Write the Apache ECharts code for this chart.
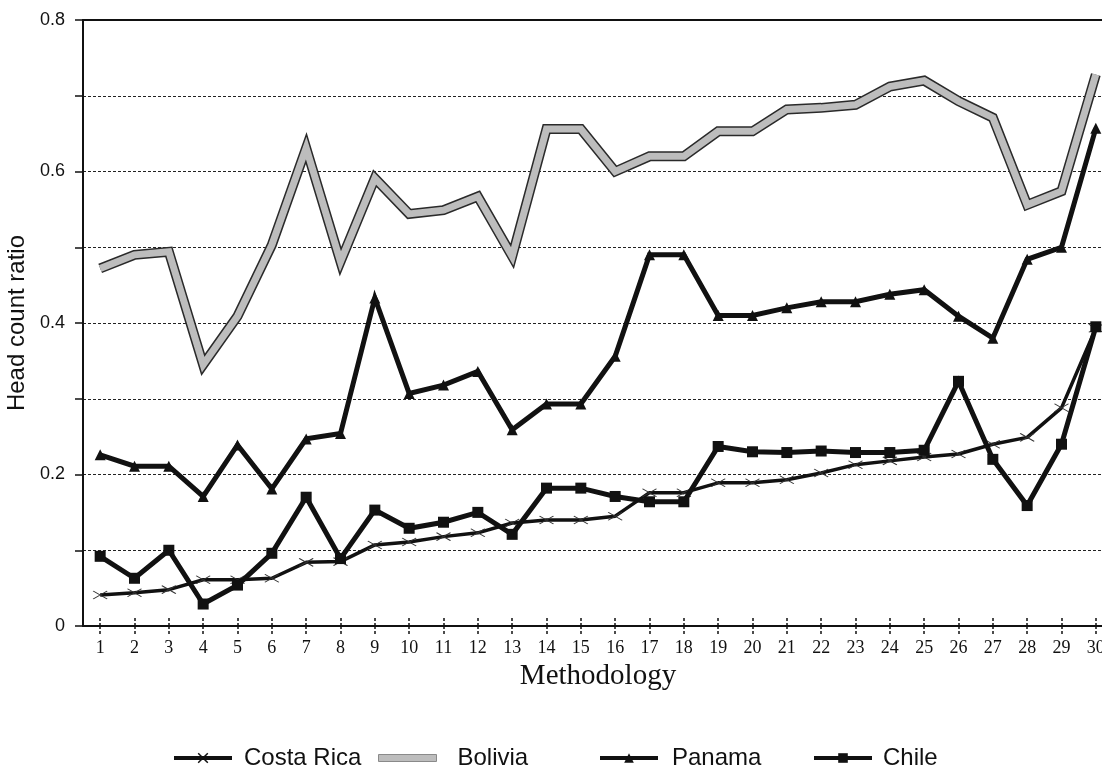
<!DOCTYPE html>
<html>
<head>
<meta charset="utf-8">
<script src="https://cdn.jsdelivr.net/npm/echarts@6/dist/echarts.min.js"></script>
<style>
html,body{margin:0;padding:0;background:#fff;overflow:hidden;width:1102px;height:770px;}
#chart{width:1113px;height:770px;}
</style>
</head>
<body>
<div id="chart"></div>
<script>
var categories = ['1','2','3','4','5','6','7','8','9','10','11','12','13','14','15','16','17','18','19','20','21','22','23','24','25','26','27','28','29','30'];
var costaRica = [0.041,0.044,0.048,0.061,0.061,0.063,0.084,0.085,0.107,0.111,0.118,0.123,0.136,0.140,0.140,0.145,0.176,0.176,0.189,0.189,0.193,0.202,0.213,0.218,0.223,0.227,0.240,0.249,0.288,0.393];
var bolivia = [0.472,0.490,0.494,0.345,0.409,0.503,0.631,0.481,0.591,0.544,0.549,0.567,0.488,0.656,0.656,0.600,0.620,0.620,0.653,0.653,0.682,0.684,0.688,0.712,0.720,0.693,0.671,0.556,0.574,0.728];
var panama = [0.226,0.211,0.211,0.171,0.239,0.181,0.247,0.254,0.433,0.307,0.318,0.336,0.259,0.293,0.293,0.356,0.490,0.490,0.410,0.410,0.420,0.428,0.428,0.438,0.444,0.409,0.380,0.484,0.500,0.657];
var chile = [0.092,0.063,0.100,0.029,0.054,0.096,0.170,0.089,0.153,0.129,0.137,0.150,0.121,0.182,0.182,0.171,0.164,0.164,0.237,0.230,0.229,0.231,0.229,0.229,0.232,0.323,0.220,0.159,0.240,0.395];
var yTicks = [0, 0.2, 0.4, 0.6, 0.8];

var chart = echarts.init(document.getElementById('chart'));
var ink = '#111';
var xSym = 'path://M0,0L14,8M14,0L0,8';

function legendAt(left, item, textPad, extra) {
  return Object.assign({
    left: left, top: 746, padding: 0, itemWidth: 58, itemHeight: 12, itemGap: 14,
    textStyle: {fontFamily: 'Liberation Sans', fontSize: 24, color: ink, padding: [0, 0, 0, textPad]},
    data: [item], selectedMode: false
  }, extra || {});
}

chart.setOption({
  animation: false,
  backgroundColor: '#fff',
  grid: {left: 83, top: 20, right: 0, bottom: 144, containLabel: false, outerBoundsMode: 'none'},
  legend: [
    legendAt(172, {name: 'Costa Rica', lineStyle: {width: 4, color: ink}, itemStyle: {color: 'rgba(0,0,0,0)', borderColor: ink, borderWidth: 1.5}}, 7),
    legendAt(378, {name: 'Bolivia', icon: 'rect', itemStyle: {color: '#bdbdbd', borderColor: '#8a8a8a', borderWidth: 1}}, 16, {itemHeight: 7}),
    legendAt(598, {name: 'Panama', lineStyle: {width: 4, color: ink}}, 9),
    legendAt(812, {name: 'Chile', lineStyle: {width: 4, color: ink}}, 6)
  ],
  xAxis: [
    {
      type: 'category', data: categories, boundaryGap: true, position: 'bottom',
      name: 'Methodology', nameLocation: 'middle', nameGap: 36,
      nameTextStyle: {fontFamily: 'Liberation Serif', fontSize: 29, color: ink},
      axisLine: {show: true, lineStyle: {color: ink, width: 2}},
      axisTick: {show: true, alignWithLabel: true, length: 10, lineStyle: {color: ink, width: 1.5, type: [3, 2]}},
      axisLabel: {fontFamily: 'Liberation Serif', fontSize: 18, color: ink, margin: 13, interval: 0},
      splitLine: {show: false}
    },
    {
      type: 'category', data: categories, boundaryGap: true, position: 'bottom',
      axisLine: {show: false},
      axisTick: {show: true, inside: true, alignWithLabel: true, length: 10, lineStyle: {color: ink, width: 1.5, type: [3, 2]}},
      axisLabel: {show: false}, splitLine: {show: false}
    },
    {
      type: 'category', data: categories, boundaryGap: true, position: 'top',
      axisLine: {show: true, lineStyle: {color: ink, width: 2}},
      axisTick: {show: false}, axisLabel: {show: false}, splitLine: {show: false}
    }
  ],
  yAxis: {
    type: 'value', min: 0, max: 0.8, interval: 0.1,
    name: 'Head count ratio', nameLocation: 'middle', nameGap: 47,
    nameTextStyle: {fontFamily: 'Liberation Sans', fontSize: 24, color: ink},
    axisLine: {show: true, lineStyle: {color: ink, width: 2}},
    axisTick: {show: true, length: 8, lineStyle: {color: ink, width: 1.5}},
    axisLabel: {
      fontFamily: 'Liberation Sans', fontSize: 18, color: ink, margin: 18,
      formatter: function (v) {
        for (var i = 0; i < yTicks.length; i++) {
          if (Math.abs(v - yTicks[i]) < 1e-6) return yTicks[i] === 0 ? '0' : yTicks[i].toFixed(1);
        }
        return '';
      }
    },
    splitLine: {show: true, lineStyle: {color: '#222', width: 1, type: [3, 2]}}
  },
  series: [
    {
      name: 'Bolivia outline', type: 'line', data: bolivia, xAxisIndex: 0,
      symbol: 'none', z: 2, silent: true,
      lineStyle: {color: '#2a2a2a', width: 10, join: 'miter'}
    },
    {
      name: 'Bolivia', type: 'line', data: bolivia, xAxisIndex: 0,
      symbol: 'none', z: 3,
      itemStyle: {color: '#bdbdbd'},
      lineStyle: {color: '#bdbdbd', width: 7, join: 'miter'}
    },
    {
      name: 'Costa Rica', type: 'line', data: costaRica, xAxisIndex: 0,
      symbol: xSym, symbolSize: [14, 8], showSymbol: true, z: 4,
      itemStyle: {color: 'rgba(0,0,0,0)', borderColor: '#333', borderWidth: 1},
      lineStyle: {color: ink, width: 3.5}
    },
    {
      name: 'Panama', type: 'line', data: panama, xAxisIndex: 0,
      symbol: 'triangle', symbolSize: 11, showSymbol: true, z: 5,
      itemStyle: {color: ink},
      lineStyle: {color: ink, width: 5, join: 'miter'}
    },
    {
      name: 'Chile', type: 'line', data: chile, xAxisIndex: 0,
      symbol: 'rect', symbolSize: 11, showSymbol: true, z: 6,
      itemStyle: {color: ink},
      lineStyle: {color: ink, width: 5, join: 'miter'}
    }
  ]
});
</script>
</body>
</html>
